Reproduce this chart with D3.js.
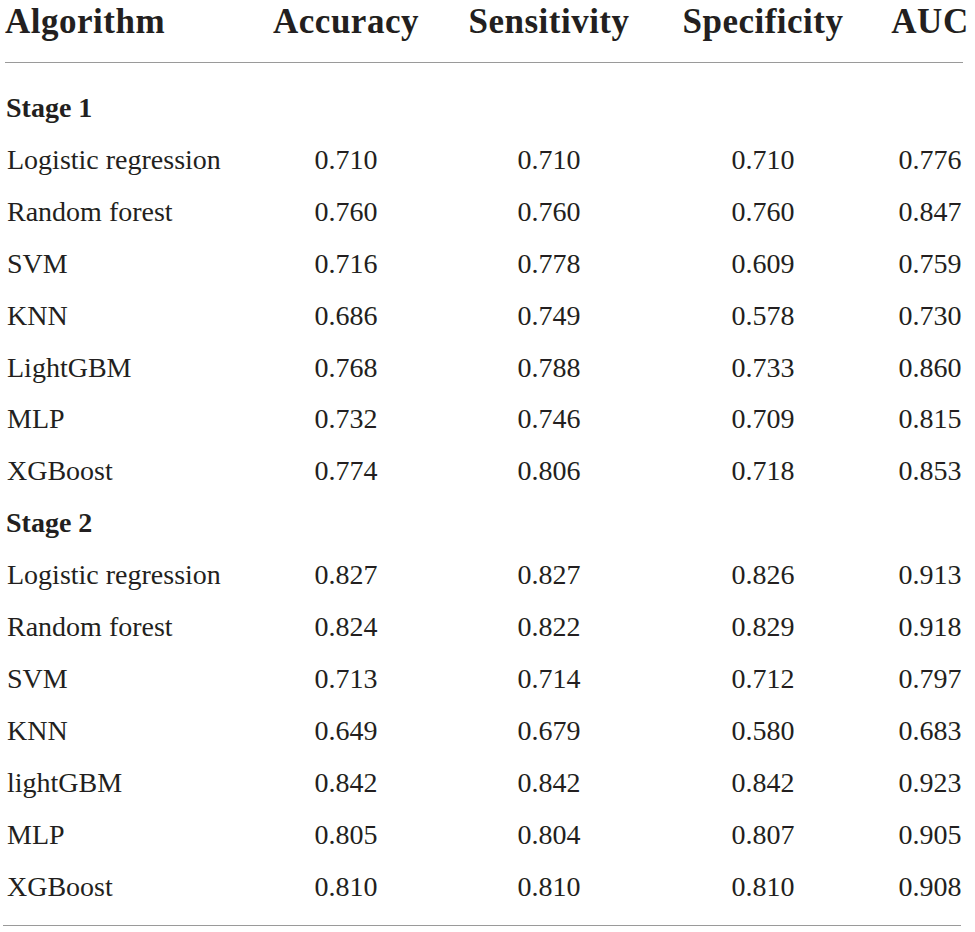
<!DOCTYPE html>
<html>
<head>
<meta charset="utf-8">
<script src="https://cdn.jsdelivr.net/npm/d3@7"></script>
<style>
  html, body { margin: 0; padding: 0; background: #fff; }
  svg { display: block; }
</style>
</head>
<body>
<div id="table"></div>
<script>
// --- data --- \\
var columns = ["Accuracy", "Sensitivity", "Specificity", "AUC"];
var stages = ["Stage 1", "Stage 2"];

var stage1Names = ["Logistic regression", "Random forest", "SVM", "KNN", "LightGBM", "MLP", "XGBoost"];
var stage1Accuracy    = [0.710, 0.760, 0.716, 0.686, 0.768, 0.732, 0.774];
var stage1Sensitivity = [0.710, 0.760, 0.778, 0.749, 0.788, 0.746, 0.806];
var stage1Specificity = [0.710, 0.760, 0.609, 0.578, 0.733, 0.709, 0.718];
var stage1AUC         = [0.776, 0.847, 0.759, 0.730, 0.860, 0.815, 0.853];

var stage2Names = ["Logistic regression", "Random forest", "SVM", "KNN", "lightGBM", "MLP", "XGBoost"];
var stage2Accuracy    = [0.827, 0.824, 0.713, 0.649, 0.842, 0.805, 0.810];
var stage2Sensitivity = [0.827, 0.822, 0.714, 0.679, 0.842, 0.804, 0.810];
var stage2Specificity = [0.826, 0.829, 0.712, 0.580, 0.842, 0.807, 0.810];
var stage2AUC         = [0.913, 0.918, 0.797, 0.683, 0.923, 0.905, 0.908];

// build the row list: a heading row for each stage, then its algorithms
var rows = [];
[[stage1Names, stage1Accuracy, stage1Sensitivity, stage1Specificity, stage1AUC],
 [stage2Names, stage2Accuracy, stage2Sensitivity, stage2Specificity, stage2AUC]]
	.forEach(function (s, si) {
		rows.push({ label: stages[si], heading: true, values: [] });
		s[0].forEach(function (name, i) {
			rows.push({ label: name, heading: false,
				values: [s[1][i], s[2][i], s[3][i], s[4][i]] });
		});
	});

var width = 975, height = 932
	, textColor = "#231f20", ruleColor = "#9a9a9a"
	, serif = "'Liberation Serif', 'Times New Roman', serif";

var svg = d3.select("#table").append("svg")
	.attr("width", width)
	.attr("height", height);

// rows: baselines spaced evenly
var y = d3.scalePoint()
	.domain(d3.range(rows.length))
	.range([117, 895.5]);

// column centres (table columns are not evenly spaced)
var x = d3.scaleOrdinal()
	.domain(columns)
	.range([346, 549, 763, 930]);

var fmt = d3.format(".3f");

// --- header --- \\
// Minion-ish bold is wider than Liberation, so open it up a little
var header = svg.append("g").attr("class", "header")
	.attr("font-family", serif)
	.attr("font-weight", "bold")
	.attr("font-size", 35)
	.attr("letter-spacing", "0.5px")
	.attr("fill", textColor);

header.append("text")
	.attr("x", 5).attr("y", 33)
	.text("Algorithm");

header.selectAll(".col-head").data(columns).enter()
	.append("text").attr("class", "col-head")
	.attr("x", function (d) { return x(d); })
	.attr("y", 33)
	.attr("text-anchor", "middle")
	.text(function (d) { return d; });

// rules above and below the body
svg.append("line")
	.attr("x1", 5).attr("x2", 963)
	.attr("y1", 62.5).attr("y2", 62.5)
	.attr("stroke", ruleColor).attr("stroke-width", 1.2);

svg.append("line")
	.attr("x1", 3).attr("x2", 961)
	.attr("y1", 925.5).attr("y2", 925.5)
	.attr("stroke", ruleColor).attr("stroke-width", 1.2);

// --- body --- \\
var body = svg.append("g").attr("class", "body")
	.attr("font-family", serif)
	.attr("fill", textColor);

var row = body.selectAll(".row").data(rows).enter()
	.append("g").attr("class", "row")
	.attr("transform", function (d, i) { return "translate(0," + y(i) + ")"; });

row.append("text")
	.attr("x", function (d) { return d.heading ? 6 : 7; })
	.attr("font-size", 28)
	.attr("font-weight", function (d) { return d.heading ? "bold" : "normal"; })
	.text(function (d) { return d.label; });

row.selectAll(".cell")
	.data(function (d) { return d.values; })
	.enter().append("text").attr("class", "cell")
	.attr("x", function (d, i) { return x(columns[i]); })
	.attr("text-anchor", "middle")
	.attr("font-size", 28)
	.text(function (d) { return fmt(d); });
</script>
</body>
</html>
